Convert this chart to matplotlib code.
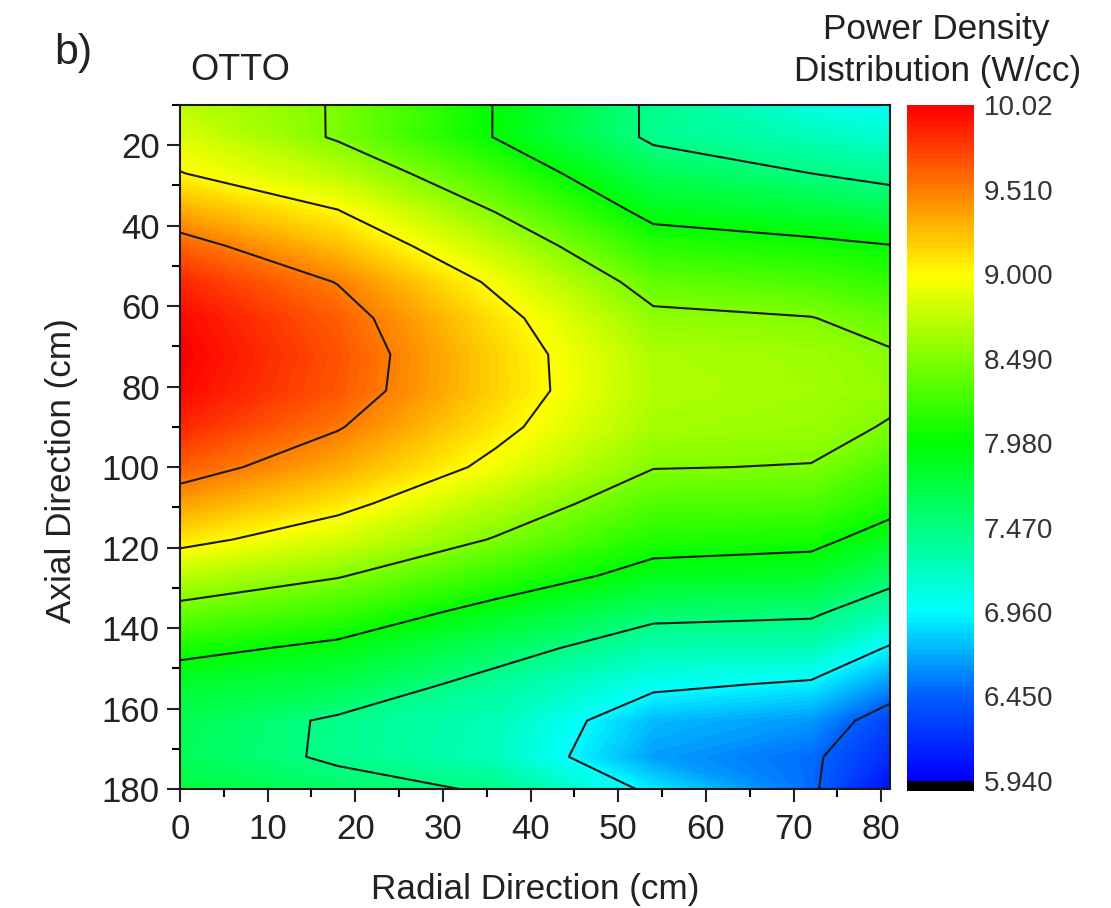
import numpy as np
import matplotlib
matplotlib.use("Agg")
import matplotlib.pyplot as plt
from matplotlib.colors import LinearSegmentedColormap
from matplotlib.ticker import MultipleLocator

plt.rcParams['font.family'] = ['Liberation Sans', 'DejaVu Sans']

radial = [0, 18, 36, 54, 72, 81]
axial = [10, 18, 27, 36, 45, 54, 63, 72, 81, 90, 100, 109, 118, 127, 136, 145, 154, 163, 172, 180]

col_0 = [8.72, 8.85, 9.01, 9.32, 9.62, 9.85, 9.98, 10.02, 9.98, 9.85, 9.63, 9.37, 9.09, 8.72, 8.39, 8.07, 7.80, 7.66, 7.63, 7.72]
col_18 = [8.47, 8.46, 8.72, 9.00, 9.24, 9.50, 9.63, 9.68, 9.66, 9.53, 9.33, 9.09, 8.82, 8.51, 8.20, 7.91, 7.68, 7.43, 7.43, 7.57]
col_36 = [7.97, 7.97, 8.22, 8.47, 8.73, 8.95, 9.10, 9.17, 9.17, 9.08, 8.93, 8.69, 8.47, 8.18, 7.87, 7.60, 7.36, 7.25, 7.22, 7.44]
col_54 = [7.42, 7.42, 7.65, 7.88, 8.13, 8.37, 8.55, 8.66, 8.68, 8.63, 8.50, 8.30, 8.10, 7.87, 7.56, 7.28, 7.02, 6.75, 6.66, 6.90]
col_72 = [7.08, 7.25, 7.47, 7.76, 8.05, 8.27, 8.50, 8.60, 8.62, 8.58, 8.48, 8.28, 8.06, 7.82, 7.52, 7.25, 6.92, 6.64, 6.50, 6.50]
col_81 = [7.00, 7.15, 7.38, 7.66, 7.99, 8.18, 8.37, 8.52, 8.55, 8.47, 8.26, 8.08, 7.85, 7.57, 7.28, 6.93, 6.62, 6.30, 6.18, 6.00]

line_levels = [5.94, 6.45, 6.96, 7.47, 7.98, 8.49, 9.00, 9.51, 10.02]
bar_labels = ["5.940", "6.450", "6.960", "7.470", "7.980", "8.490", "9.000", "9.510", "10.02"]

Z = np.array([col_0, col_18, col_36, col_54, col_72, col_81]).T
fill_levels = np.linspace(5.94, 10.02, 129)

W, H = 1111, 908
fig = plt.figure(figsize=(W / 100, H / 100), dpi=100)
ax = fig.add_axes([180 / W, 1 - 789 / H, 710 / W, 684 / H])
cax = fig.add_axes([907 / W, 1 - 791 / H, 67 / W, 686 / H])

cmap = LinearSegmentedColormap.from_list("rainbow_otto", [
    (0.0, "#0000ff"),
    (0.125, "#0060ff"),
    (0.25, "#00ffff"),
    (0.5, "#00ff00"),
    (0.75, "#ffff00"),
    (1.0, "#ff0000"),
], N=128)
cmap.set_under("black")

cf = ax.contourf(radial, axial, Z, levels=fill_levels, cmap=cmap, extend="min")
ax.contour(radial, axial, Z, levels=line_levels[1:-1], colors="#1a1a1a", linewidths=1.5)

ax.set_xlim(0, 81)
ax.set_ylim(180, 10)
ax.xaxis.set_major_locator(MultipleLocator(10))
ax.xaxis.set_minor_locator(MultipleLocator(5))
ax.yaxis.set_major_locator(MultipleLocator(20))
ax.yaxis.set_minor_locator(MultipleLocator(10))
ax.tick_params(which="major", length=9.5, width=1.5, labelsize=25, colors="#222222", pad=5)
ax.tick_params(axis="x", which="major", pad=8)
ax.tick_params(which="minor", length=5.5, width=1.5)
for s in ax.spines.values():
    s.set_linewidth(1.5)
    s.set_color("#1a1a1a")
ax.set_xlabel("Radial Direction (cm)", fontsize=25.3, color="#222222", labelpad=19)
ax.set_ylabel("Axial Direction (cm)", fontsize=25.3, color="#222222", labelpad=17, y=0.466)

cb = fig.colorbar(cf, cax=cax, extend="min", extendfrac=10 / 676, extendrect=True, drawedges=False)
cb.outline.set_visible(False)
cb.set_ticks(line_levels)
cb.set_ticklabels(bar_labels)
cb.ax.tick_params(length=0, labelsize=20, colors="#333333", pad=7)
cb.ax.minorticks_off()

fig.text(54 / W, 1 - 53 / H, "b)", fontsize=31, color="#222222", va="center", ha="left")
fig.text(190 / W, 1 - 70 / H, "OTTO", fontsize=26, color="#222222", va="center", ha="left")
fig.text(936 / W, 1 - 29 / H, "Power Density", fontsize=25.3, color="#222222", va="center", ha="center")
fig.text(938 / W, 1 - 71 / H, "Distribution (W/cc)", fontsize=25.3, color="#222222", va="center", ha="center")

fig.savefig("out.png", dpi=100)
